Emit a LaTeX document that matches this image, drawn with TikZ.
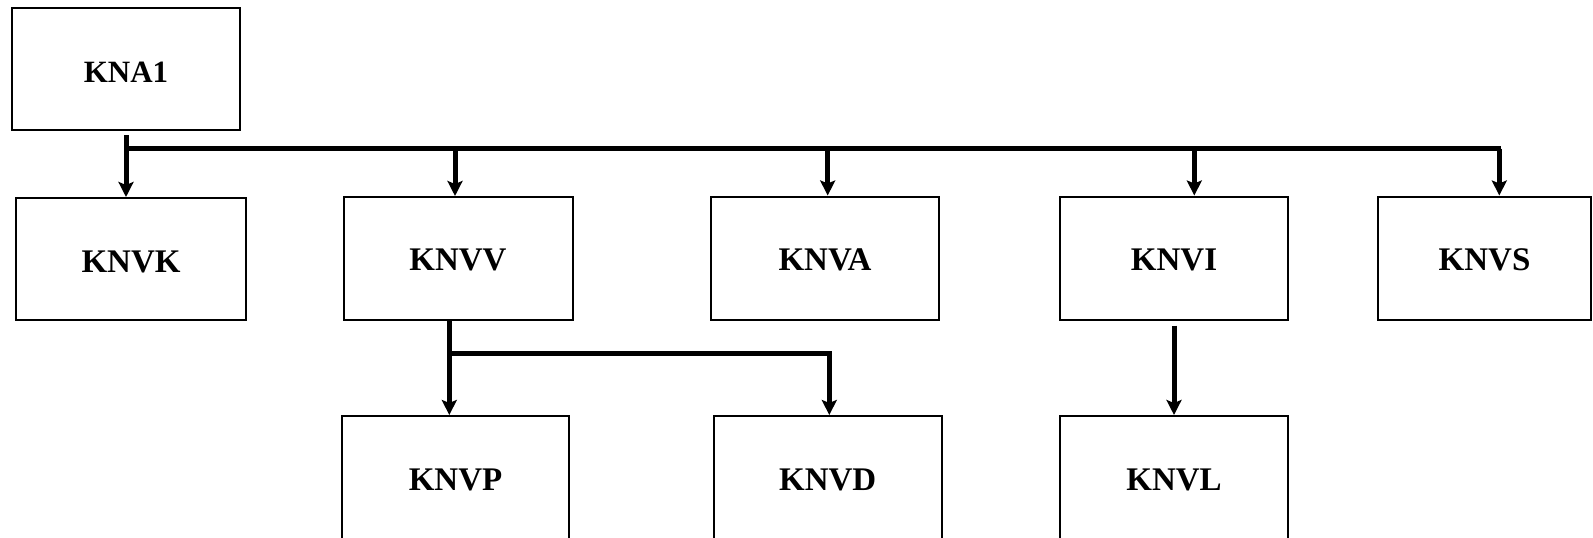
\documentclass[tikz,border=0pt]{standalone}
\usepackage{fontspec}
\setmainfont{Liberation Serif}
\usetikzlibrary{arrows.meta}
\begin{document}
\begin{tikzpicture}[x=1pt,y=-1pt,
  box/.style={draw=black, line width=2pt, inner sep=0pt, minimum height=123pt,
    text height=24pt, text depth=0pt,
    font=\fontsize{33}{39}\selectfont\bfseries},
  arr/.style={line width=5pt, -{Stealth[length=15pt,width=15pt,inset=3pt]}},
  busline/.style={line width=5pt, line join=miter}]
\useasboundingbox (0,0) rectangle (1593,538);
% boxes
\node[box, minimum width=228pt, minimum height=122pt, text height=27.5pt,
  font=\fontsize{31}{37}\selectfont\bfseries] (kna1) at (126,69) {KNA1};
\node[box, minimum width=230pt, minimum height=122pt, text height=26pt] (knvk) at (131,259) {KNVK};
\node[box, minimum width=229pt] (knvv) at (458,258.5) {KNVV};
\node[box, minimum width=228pt] (knva) at (825,258) {KNVA};
\node[box, minimum width=228pt] (knvi) at (1174,258) {KNVI};
\node[box, minimum width=213pt] (knvs) at (1484.5,258) {KNVS};
\node[box, minimum width=227pt, minimum height=124pt] (knvp) at (455.5,478) {KNVP};
\node[box, minimum width=228pt, minimum height=124pt] (knvd) at (827.7,478) {KNVD};
\node[box, minimum width=228pt, minimum height=124pt] (knvl) at (1174,478) {KNVL};
% bus coordinates
\coordinate (busL) at (126,148.5);
\coordinate (busR) at (1501,148.5);
\coordinate (d2) at (455,148.5);
\coordinate (d3) at (827.7,148.5);
\coordinate (d4) at (1194.3,148.5);
\coordinate (d5) at (1499.3,148.5);
\coordinate (s1) at (449.3,353.3);
\coordinate (s2) at (829.3,353.3);
% main bus
\draw[busline] (busL) -- (busR);
\draw[arr] ([yshift=-4pt]kna1.south) -- (kna1.south |- knvk.north);
\draw[arr] (d2) -- (d2 |- knvv.north);
\draw[arr] (d3) -- (d3 |- knva.north);
\draw[arr] (d4) -- (d4 |- knvi.north);
\draw[arr] (d5) -- (d5 |- knvs.north);
% KNVV branch
\draw[arr] (s1 |- knvv.south) -- (s1 |- knvp.north);
\draw[busline, -{Stealth[length=15pt,width=15pt,inset=3pt]}] (s1) -- (s2) -- (s2 |- knvd.north);
% KNVI branch
\draw[arr] ([yshift=-5pt]knvi.south) -- (knvl.north);
\end{tikzpicture}
\end{document}
